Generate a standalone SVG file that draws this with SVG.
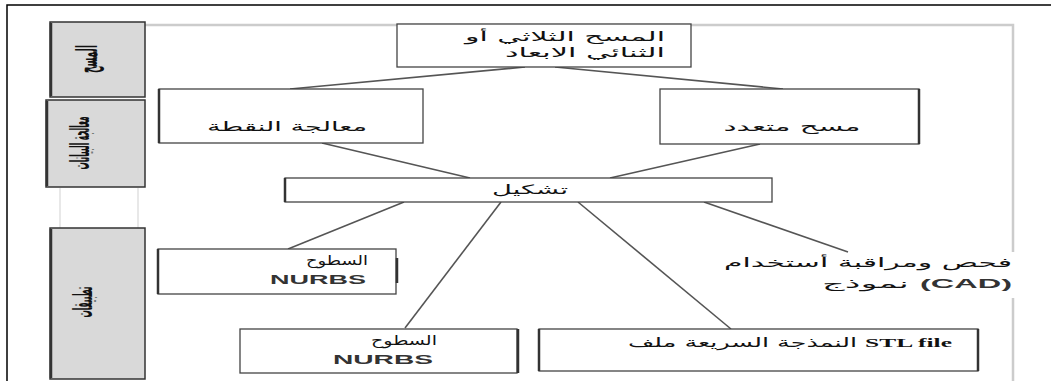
<svg xmlns="http://www.w3.org/2000/svg" width="1051" height="381" viewBox="0 0 1051 381">
<style>
.box{fill:#fff;stroke:#444;stroke-width:1.3}
.side{fill:#d9d9d9;stroke:#333;stroke-width:1.5}
.thick{stroke:#333;stroke-width:2.5}
.ar{font-family:"DejaVu Sans",sans-serif;font-size:13px;fill:#111}
.lat{font-family:"Liberation Sans",sans-serif;font-size:12px;font-weight:bold;fill:#333}
.lbl{font-family:"DejaVu Sans",sans-serif;font-size:12px;fill:#111;font-weight:bold}
.con{stroke:#555;stroke-width:1.6;fill:none}
.frame{stroke:#000;stroke-width:1.5;fill:none}
.grey{stroke:#ccc;stroke-width:2.5;fill:none}
.faint{stroke:#e8e8e8;stroke-width:2;fill:none}
</style>
<rect width="1051" height="381" fill="#fff"/>
<g id="frame">
<path class="frame" d="M7,381 V5 H1051"/>
<path class="grey" d="M145,25 H1013 V252 M1013,298 V381"/>
<path class="faint" d="M60,188 V228 M138,188 V228"/>
</g>
<g id="side-scan">
<rect class="side" x="50" y="22" width="95" height="75"/>
<line class="thick" x1="51" y1="23" x2="51" y2="96" stroke="#777"/>
<text class="lbl" transform="translate(97,59) scale(2.4,1) rotate(-90)" text-anchor="middle" textLength="28" lengthAdjust="spacingAndGlyphs">المسح</text>
</g>
<g id="side-processing">
<rect class="side" x="46" y="100" width="99" height="87"/>
<line class="thick" x1="47" y1="101" x2="47" y2="186" stroke="#777"/>
<text class="lbl" transform="translate(89,143) scale(2.2,1) rotate(-90)" text-anchor="middle" textLength="53" lengthAdjust="spacingAndGlyphs">معالجة البيانات</text>
</g>
<g id="side-applications">
<rect class="side" x="50" y="228" width="95" height="151"/>
<line class="thick" x1="51" y1="229" x2="51" y2="378" stroke="#777"/>
<text class="lbl" transform="translate(92,302) scale(2.2,1) rotate(-90)" text-anchor="middle" textLength="31" lengthAdjust="spacingAndGlyphs">تطبيقات</text>
</g>
<g id="connectors">
<line class="con" x1="525" y1="67" x2="290" y2="89"/>
<line class="con" x1="555" y1="67" x2="783" y2="89"/>
<line class="con" x1="322" y1="143" x2="470" y2="178"/>
<line class="con" x1="760" y1="144" x2="610" y2="178"/>
<line class="con" x1="404" y1="202" x2="288" y2="249"/>
<line class="con" x1="501" y1="202" x2="405" y2="328"/>
<line class="con" x1="578" y1="202" x2="731" y2="329"/>
<line class="con" x1="704" y1="202" x2="848" y2="252"/>
</g>
<g id="node-scan3d">
<rect class="box" x="397" y="24" width="294" height="43"/>
<text class="ar" x="665" y="41" text-anchor="end" textLength="200" lengthAdjust="spacingAndGlyphs">المسح الثلاثي أو</text>
<text class="ar" x="665" y="57" text-anchor="end" textLength="160" lengthAdjust="spacingAndGlyphs">الثنائي الابعاد</text>
</g>
<g id="node-points">
<rect class="box" x="159" y="89" width="264" height="54"/>
<line class="thick" x1="159" y1="89" x2="159" y2="143"/>
<text class="ar" x="287" y="131" text-anchor="middle" textLength="160" lengthAdjust="spacingAndGlyphs">معالجة النقطة</text>
</g>
<g id="node-multiscan">
<rect class="box" x="660" y="89" width="259" height="55"/>
<line class="thick" x1="919" y1="89" x2="919" y2="144"/>
<text class="ar" x="792" y="131" text-anchor="middle" textLength="137" lengthAdjust="spacingAndGlyphs">مسح متعدد</text>
</g>
<g id="node-shaping">
<rect class="box" x="285" y="178" width="487" height="24"/>
<line class="thick" x1="285" y1="178" x2="285" y2="202"/>
<text class="ar" x="530" y="194" text-anchor="middle" textLength="76" lengthAdjust="spacingAndGlyphs">تشكيل</text>
</g>
<g id="node-nurbs1">
<rect class="box" x="158" y="249" width="238" height="45"/>
<line class="thick" x1="158" y1="249" x2="158" y2="294"/>
<line class="thick" x1="397" y1="258" x2="397" y2="283"/>
<text class="ar" x="368" y="265" text-anchor="end" textLength="62" lengthAdjust="spacingAndGlyphs">السطوح</text>
<text class="lat" x="366" y="284" text-anchor="end" textLength="96" lengthAdjust="spacingAndGlyphs">NURBS</text>
</g>
<g id="node-nurbs2">
<rect class="box" x="240" y="329" width="277" height="44"/>
<line class="thick" x1="518" y1="329" x2="518" y2="373"/>
<text class="ar" x="437" y="345" text-anchor="end" textLength="66" lengthAdjust="spacingAndGlyphs">السطوح</text>
<text class="lat" x="433" y="364" text-anchor="end" textLength="100" lengthAdjust="spacingAndGlyphs">NURBS</text>
</g>
<g id="node-stl">
<rect class="box" x="539" y="329" width="439" height="42"/>
<line class="thick" x1="539" y1="329" x2="539" y2="371"/>
<line class="thick" x1="978" y1="329" x2="978" y2="371"/>
<text class="ar" x="952" y="347" text-anchor="end" textLength="324" lengthAdjust="spacingAndGlyphs">النمذجة السريعة ملف <tspan font-family="Liberation Serif" font-weight="bold">STL file</tspan></text>
</g>
<g id="node-cad">
<text class="ar" x="1012" y="267" text-anchor="end" textLength="288" lengthAdjust="spacingAndGlyphs">فحص ومراقبة أستخدام</text>
<text class="ar" x="1012" y="288" text-anchor="end" textLength="190" lengthAdjust="spacingAndGlyphs">نموذج <tspan class="lat">(CAD)</tspan></text>
</g>
</svg>
